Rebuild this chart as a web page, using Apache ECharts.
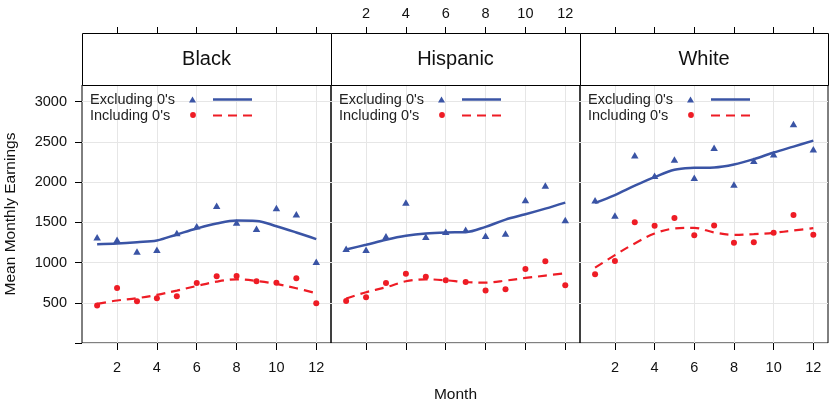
<!DOCTYPE html>
<html>
<head>
<meta charset="utf-8">
<script src="https://cdn.jsdelivr.net/npm/echarts@6/dist/echarts.min.js"></script>
<style>html,body{margin:0;padding:0;background:#fff}#c{width:830px;height:403px}</style>
</head>
<body>
<div id="c"></div>
<script>
const months = [1,2,3,4,5,6,7,8,9,10,11,12];
const panels = ['Black','Hispanic','White'];
const xTicks = [2,4,6,8,10,12];
const yTicks = [0,500,1000,1500,2000,2500,3000];

const blackExcl    = [1315,1282,1138,1158,1368,1451,1706,1496,1418,1678,1599,1010];
const blackIncl    = [466,684,519,556,581,746,829,833,767,750,804,495];
const blackExclFit = [1228,1237,1253,1274,1348,1422,1484,1521,1517,1451,1373,1290];
const blackInclFit = [486,528,556,598,651,709,763,791,771,734,680,618];

const hispExcl    = [1171,1158,1327,1744,1319,1381,1406,1331,1360,1777,1958,1529];
const hispIncl    = [523,569,746,861,824,779,758,651,668,919,1014,717];
const hispExclFit = [1162,1220,1282,1331,1360,1373,1377,1443,1533,1599,1669,1744];
const hispInclFit = [552,631,692,767,791,779,758,750,775,808,837,866];

const whiteExcl    = [1772,1583,2333,2077,2279,2053,2424,1970,2263,2345,2721,2407];
const whiteIncl    = [853,1018,1500,1455,1554,1340,1459,1245,1253,1369,1591,1344];
const whiteExclFit = [1740,1838,1954,2061,2152,2176,2181,2218,2284,2366,2440,2514];
const whiteInclFit = [936,1092,1237,1360,1422,1430,1373,1344,1352,1369,1397,1426];

const legendLabels = ["Excluding 0's","Including 0's"];

const panelData = [
  [blackExcl, blackIncl, blackExclFit, blackInclFit],
  [hispExcl, hispIncl, hispExclFit, hispInclFit],
  [whiteExcl, whiteIncl, whiteExclFit, whiteInclFit]
];

const BLUE = '#3A54A5', RED = '#EE1C25', FONT = 'Liberation Sans, Arial, sans-serif';
const TICKFS = 14.5, TITLEFS = 15.5, LEGFS = 14.5, STRIPFS = 20;
const lefts = [82, 331, 580], widths = [249, 249, 248];
const gTop = 85, gBottom = 343, stripTop = 33;

const pair = arr => months.map((m,i)=>[m, arr[i]]);

const grids = [], xAxes = [], yAxes = [], series = [], graphics = [];
panels.forEach((name, p) => {
  grids.push({left: lefts[p], top: gTop, width: widths[p], height: gBottom-gTop,
    show: true, borderColor: '#000', borderWidth: 1, containLabel: false, outerBoundsMode: 'none'});
  const common = {type: 'value', gridIndex: p, min: 0.24, max: 12.74,
    axisLine: {show: false},
    axisTick: {show: true, inside: false, length: 7, lineStyle: {color: '#000', width: 1}, customValues: xTicks},
    axisLabel: {customValues: xTicks, color: '#111', fontSize: TICKFS, fontFamily: FONT}};
  // bottom
  xAxes.push(Object.assign({}, common, {position: 'bottom',
    axisLabel: Object.assign({}, common.axisLabel, {show: p !== 1, margin: 17}),
    splitLine: {show: true, lineStyle: {color: '#e6e6e6', width: 1}},
    name: p === 1 ? 'Month' : '', nameLocation: 'middle', nameGap: 44,
    nameTextStyle: {color: '#111', fontSize: TITLEFS, fontFamily: FONT}}));
  // top
  xAxes.push(Object.assign({}, common, {position: 'top', offset: gTop - stripTop,
    axisTick: Object.assign({}, common.axisTick, {length: 6}),
    axisLabel: Object.assign({}, common.axisLabel, {show: p === 1, margin: 12}),
    splitLine: {show: false}}));
  yAxes.push({type: 'value', gridIndex: p, min: 0, max: 3205, interval: 500,
    axisLine: {show: false},
    axisTick: {show: p === 0, length: 7, lineStyle: {color: '#000'}, customValues: yTicks},
    axisLabel: {show: p === 0, customValues: yTicks.slice(1), formatter: v => String(v),
      color: '#111', fontSize: TICKFS, fontFamily: FONT, margin: 15},
    splitLine: {show: true, lineStyle: {color: '#e6e6e6', width: 1}},
    name: p === 0 ? 'Mean Monthly Earnings' : '', nameLocation: 'middle', nameGap: 63, nameRotate: 90,
    nameTextStyle: {color: '#111', fontSize: TITLEFS, fontFamily: FONT}});
  const d = panelData[p];
  const xi = p*2;
  series.push({type: 'scatter', xAxisIndex: xi, yAxisIndex: p, data: pair(d[0]),
    symbol: 'triangle', symbolSize: [7.5,6.5], itemStyle: {color: BLUE, opacity: 1}, z: 3});
  series.push({type: 'scatter', xAxisIndex: xi, yAxisIndex: p, data: pair(d[1]),
    symbol: 'circle', symbolSize: 6, itemStyle: {color: RED, opacity: 1}, z: 3});
  series.push({type: 'line', xAxisIndex: xi, yAxisIndex: p, data: pair(d[2]), smooth: 0.35,
    showSymbol: false, lineStyle: {color: BLUE, width: 2.5}, z: 4});
  series.push({type: 'line', xAxisIndex: xi, yAxisIndex: p, data: pair(d[3]), smooth: 0.35,
    showSymbol: false, lineStyle: {color: RED, width: 2.2, type: [9,6]}, z: 4});

  // strip
  graphics.push({type: 'rect', shape: {x: lefts[p]+0.5, y: stripTop+0.5, width: widths[p], height: gTop-stripTop},
    style: {fill: '#fff', stroke: '#000', lineWidth: 1}, z: 10});
  graphics.push({type: 'text', x: lefts[p] + widths[p]/2, y: (stripTop+gTop)/2,
    style: {text: name, fontSize: STRIPFS, fontFamily: FONT, fill: '#111', align: 'center', verticalAlign: 'middle'}, z: 11});
  // legend
  const L = lefts[p];
  graphics.push({type: 'text', x: L+8, y: 100, style: {text: legendLabels[0], fontSize: LEGFS, fontFamily: FONT, fill: '#222', verticalAlign: 'middle'}, z: 11});
  graphics.push({type: 'text', x: L+8, y: 116, style: {text: legendLabels[1], fontSize: LEGFS, fontFamily: FONT, fill: '#222', verticalAlign: 'middle'}, z: 11});
  graphics.push({type: 'polygon', shape: {points: [[L+110.5,96.5],[L+114,102.5],[L+107,102.5]]}, style: {fill: BLUE}, z: 11});
  graphics.push({type: 'circle', shape: {cx: L+111, cy: 115, r: 2.9}, style: {fill: RED}, z: 11});
  graphics.push({type: 'line', shape: {x1: L+131, y1: 99.5, x2: L+170, y2: 99.5}, style: {stroke: BLUE, lineWidth: 2.5}, z: 11});
  graphics.push({type: 'line', shape: {x1: L+131, y1: 115.5, x2: L+170, y2: 115.5}, style: {stroke: RED, lineWidth: 2.2, lineDash: [9,6]}, z: 11});
});

const chart = echarts.init(document.getElementById('c'), null, {renderer: 'canvas'});
chart.setOption({
  animation: false,
  backgroundColor: '#fff',
  grid: grids, xAxis: xAxes, yAxis: yAxes, series: series,
  graphic: graphics
});
</script>
</body>
</html>
